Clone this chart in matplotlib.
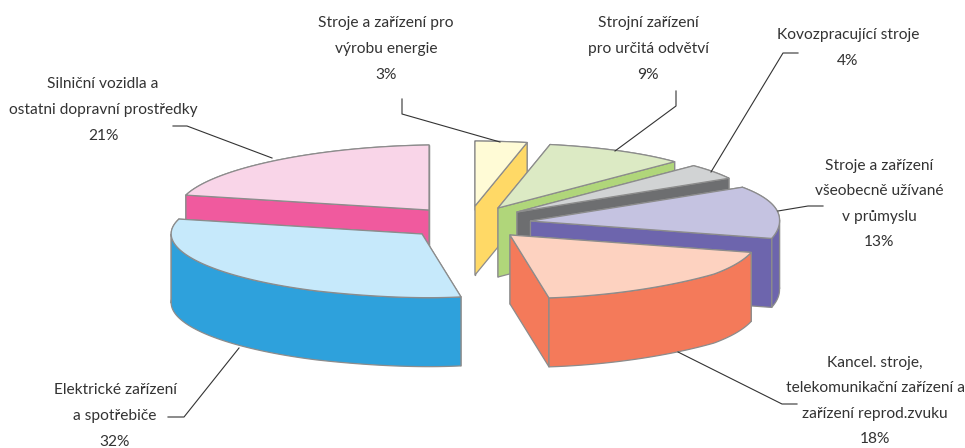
import numpy as np
import matplotlib
matplotlib.use("Agg")
import matplotlib.pyplot as plt
from matplotlib.patches import Polygon

# --- data (clockwise from 12 o'clock) ---
names = ["Stroje a zařízení pro\nvýrobu energie", "Strojní zařízení\npro určitá odvětví",
         "Kovozpracující stroje", "Stroje a zařízení\nvšeobecně užívané\nv průmyslu",
         "Kancel. stroje,\ntelekomunikační zařízení a\nzařízení reprod.zvuku",
         "Elektrické zařízení\na spotřebiče", "Silniční vozidla a\nostatni dopravní prostředky"]
values = [3, 9, 4, 13, 18, 32, 21]

# --- styles / layout (figure is drawn in pixel space) ---
top_colors = ["#FFFBD6", "#DCEAC4", "#D1D3D4", "#C5C3E1", "#FDD2C0", "#C6E9FB", "#F9D5E8"]
side_colors = ["#FFD966", "#B0D67A", "#6D6E70", "#6D65AD", "#F47A5A", "#2EA1DC", "#F05A9E"]
apex = [(475, 206), (498, 208), (517, 212), (530.5, 221), (510, 235), (422, 234), (429, 210)]
order = [6, 0, 1, 2, 3, 4, 5]
thick = 69
rx_t = [0, 10.8, 43.2, 57.6, 90, 125, 169.2, 205, 285, 360]
rx_v = [278, 278, 258, 251, 249, 249, 208, 250, 251, 251]
ry_t = [0, 57.6, 104.4, 169.2, 284.4, 360]
ry_v = [65, 63, 70, 64, 60, 65]
edge = "#8C8C8C"
ink = "#333333"

label_pos = [(386, 49), (648, 49), (848, 48), (879, 204), (875, 401), (115, 416), (103, 110)]
leaders = [[(402, 99), (402, 114), (500, 142)],
           [(676, 91), (676, 106), (615, 151)],
           [(798, 53), (783, 53), (711, 172)],
           [(823, 206), (808, 206), (778, 211)],
           [(797, 404), (782, 404), (678, 352)],
           [(168, 417), (184, 417), (239, 348)],
           [(173, 126), (187, 126), (272, 158)]]

plt.rcParams["font.family"] = ["Lato", "DejaVu Sans"]
fig = plt.figure(figsize=(9.65, 4.48), dpi=100)
ax = fig.add_axes([0, 0, 1, 1])
ax.set_xlim(0, 965)
ax.set_ylim(448, 0)
ax.axis("off")


def rim(c, deg):
    th = np.radians(deg)
    rx = np.interp(deg, rx_t, rx_v)
    ry = np.interp(deg, ry_t, ry_v)
    return np.column_stack([c[0] + rx * np.sin(th), c[1] - ry * np.cos(th)])


bounds = np.cumsum([0] + values) * 3.6
for z, i in enumerate(order):
    c = apex[i]
    deg = np.linspace(bounds[i], bounds[i + 1], 120)
    arc = rim(c, deg)
    down = np.array([0, thick])
    cp = np.array(c, float)
    faces = [np.vstack([cp, arc[0], arc[0] + down, cp + down]),
             np.vstack([cp, arc[-1], arc[-1] + down, cp + down])]
    # split the outer wall at its horizontal extremes so the silhouette is vertical there
    cuts = sorted({0, int(np.argmin(arc[:, 0])), int(np.argmax(arc[:, 0])), len(arc) - 1})
    for a, b in zip(cuts[:-1], cuts[1:]):
        seg = arc[a:b + 1]
        faces.append(np.vstack([seg, (seg + down)[::-1]]))
    faces.sort(key=lambda f: f[:, 1].mean())
    for f in faces:
        ax.add_patch(Polygon(f, closed=True, fc=side_colors[i], ec=edge, lw=0.9, zorder=z * 3 + 1, joinstyle="round"))
    ax.add_patch(Polygon(np.vstack([cp, arc]), closed=True, fc=top_colors[i], ec=edge, lw=0.9, zorder=z * 3 + 2, joinstyle="round"))

for i, (name, val) in enumerate(zip(names, values)):
    ax.text(label_pos[i][0], label_pos[i][1], f"{name}\n{val}%", ha="center", va="center",
            fontsize=11.2, color=ink, linespacing=2.05, zorder=60)
    pts = np.array(leaders[i])
    ax.plot(pts[:, 0], pts[:, 1], color=ink, lw=0.8, zorder=50)

fig.savefig("out.png", dpi=100, facecolor="white")
